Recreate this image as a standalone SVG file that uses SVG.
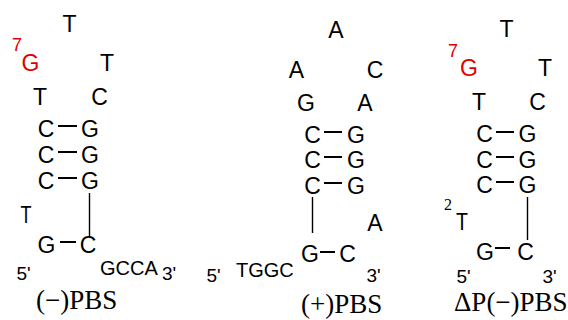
<svg xmlns="http://www.w3.org/2000/svg" width="568" height="320" viewBox="0 0 568 320">
<style>
.n{font-family:"Liberation Sans",Arial,sans-serif;font-size:23px;fill:#000;text-anchor:middle}
.s{font-family:"Liberation Sans",Arial,sans-serif;font-size:20px;fill:#000}
.e{font-family:"Liberation Sans",Arial,sans-serif;font-size:19px;fill:#000}
.r{fill:#e00000}
.sup{font-family:"Liberation Sans",Arial,sans-serif;font-size:18px;fill:#e00000}
.t{font-family:"Liberation Serif","Times New Roman",serif;font-size:27px;fill:#000}
.b{stroke:#000;stroke-width:2;fill:none}
.v{stroke:#000;stroke-width:1.4;fill:none}
</style>
<rect width="568" height="320" fill="#fff"/>
<g id="connectors">
<line class="b" x1="58" y1="126" x2="77" y2="126"/>
<line class="b" x1="58" y1="152" x2="77" y2="152"/>
<line class="b" x1="58" y1="178" x2="77" y2="178"/>
<line class="v" x1="89.5" y1="193" x2="89.5" y2="236"/>
<line class="b" x1="60" y1="242" x2="76" y2="242"/>
<line class="b" x1="324" y1="132" x2="342" y2="132"/>
<line class="b" x1="324" y1="157" x2="342" y2="157"/>
<line class="b" x1="324" y1="183" x2="342" y2="183"/>
<line class="v" x1="312.5" y1="197" x2="312.5" y2="233"/>
<line class="b" x1="320" y1="252" x2="335" y2="252"/>
<line class="b" x1="496" y1="132" x2="514" y2="132"/>
<line class="b" x1="496" y1="157" x2="514" y2="157"/>
<line class="b" x1="496" y1="182" x2="514" y2="182"/>
<line class="v" x1="527.5" y1="197" x2="527.5" y2="240"/>
<line class="b" x1="495" y1="248" x2="510" y2="248"/>
</g>
<g id="minusPBS">
<g id="L-T1"><text class="n" x="69.5" y="32">T</text></g>
<g id="L-G7"><text class="sup" x="12" y="51">7</text><text class="n r" x="30.5" y="70.5">G</text></g>
<g id="L-T3"><text class="n" x="107" y="71">T</text></g>
<g id="L-T4"><text class="n" x="40" y="105">T</text></g>
<g id="L-C5"><text class="n" x="99.5" y="104.5">C</text></g>
<g id="L-C6"><text class="n" x="46" y="136.5">C</text></g>
<g id="L-G6"><text class="n" x="90" y="136.5">G</text></g>
<g id="L-C7"><text class="n" x="46" y="162.5">C</text></g>
<g id="L-G7b"><text class="n" x="90" y="162.5">G</text></g>
<g id="L-C8"><text class="n" x="46" y="188.5">C</text></g>
<g id="L-G8"><text class="n" x="90" y="188.5">G</text></g>
<g id="L-T9"><text class="n" x="26" y="223" textLength="11" lengthAdjust="spacingAndGlyphs" text-anchor="start">T</text></g>
<g id="L-G10"><text class="n" x="46.5" y="253">G</text></g>
<g id="L-C10"><text class="n" x="88" y="253">C</text></g>
<g id="L-5"><text class="e" x="16.5" y="280">5'</text></g>
<g id="L-GCCA"><text class="s" x="100" y="274.5">GCCA</text></g>
<g id="L-3"><text class="e" x="162" y="280">3'</text></g>
<g id="L-label"><text class="t" x="36" y="309">(−)PBS</text></g>
</g>
<g id="plusPBS">
<g id="M-A1"><text class="n" x="336" y="38">A</text></g>
<g id="M-A2"><text class="n" x="296.5" y="78">A</text></g>
<g id="M-C3"><text class="n" x="375" y="78">C</text></g>
<g id="M-G4"><text class="n" x="306" y="111">G</text></g>
<g id="M-A5"><text class="n" x="365" y="111">A</text></g>
<g id="M-C6"><text class="n" x="312.5" y="142.5">C</text></g>
<g id="M-G6"><text class="n" x="356" y="142.5">G</text></g>
<g id="M-C7"><text class="n" x="312.5" y="167.5">C</text></g>
<g id="M-G7"><text class="n" x="356" y="167.5">G</text></g>
<g id="M-C8"><text class="n" x="312.5" y="194">C</text></g>
<g id="M-G8"><text class="n" x="356" y="194">G</text></g>
<g id="M-A9"><text class="n" x="375" y="231">A</text></g>
<g id="M-G10"><text class="n" x="310" y="262">G</text></g>
<g id="M-C10"><text class="n" x="347.5" y="262">C</text></g>
<g id="M-5"><text class="e" x="206.5" y="282">5'</text></g>
<g id="M-TGGC"><text class="s" x="236" y="277">TGGC</text></g>
<g id="M-3"><text class="e" x="366.5" y="282">3'</text></g>
<g id="M-label"><text class="t" x="301" y="313">(+)PBS</text></g>
</g>
<g id="dPminusPBS">
<g id="R-T1"><text class="n" x="506.5" y="37">T</text></g>
<g id="R-G7"><text class="sup" x="448" y="57">7</text><text class="n r" x="469" y="75.5">G</text></g>
<g id="R-T3"><text class="n" x="545" y="76">T</text></g>
<g id="R-T4"><text class="n" x="479" y="110">T</text></g>
<g id="R-C5"><text class="n" x="537.5" y="109.5">C</text></g>
<g id="R-C6"><text class="n" x="484.5" y="142">C</text></g>
<g id="R-G6"><text class="n" x="527.5" y="142">G</text></g>
<g id="R-C7"><text class="n" x="484.5" y="168">C</text></g>
<g id="R-G7b"><text class="n" x="527.5" y="168">G</text></g>
<g id="R-C8"><text class="n" x="484.5" y="193">C</text></g>
<g id="R-G8"><text class="n" x="527.5" y="193">G</text></g>
<g id="R-T2"><text class="t" x="444" y="210" style="font-size:16px">2</text><text class="n" x="462" y="230" textLength="12" lengthAdjust="spacingAndGlyphs" text-anchor="start">T</text></g>
<g id="R-G10"><text class="n" x="485" y="259.5">G</text></g>
<g id="R-C10"><text class="n" x="525.5" y="259.5">C</text></g>
<g id="R-5"><text class="e" x="456.5" y="283">5'</text></g>
<g id="R-3"><text class="e" x="542.5" y="283">3'</text></g>
<g id="R-label"><text class="t" x="454" y="311">ΔP(−)PBS</text></g>
</g>
</svg>
